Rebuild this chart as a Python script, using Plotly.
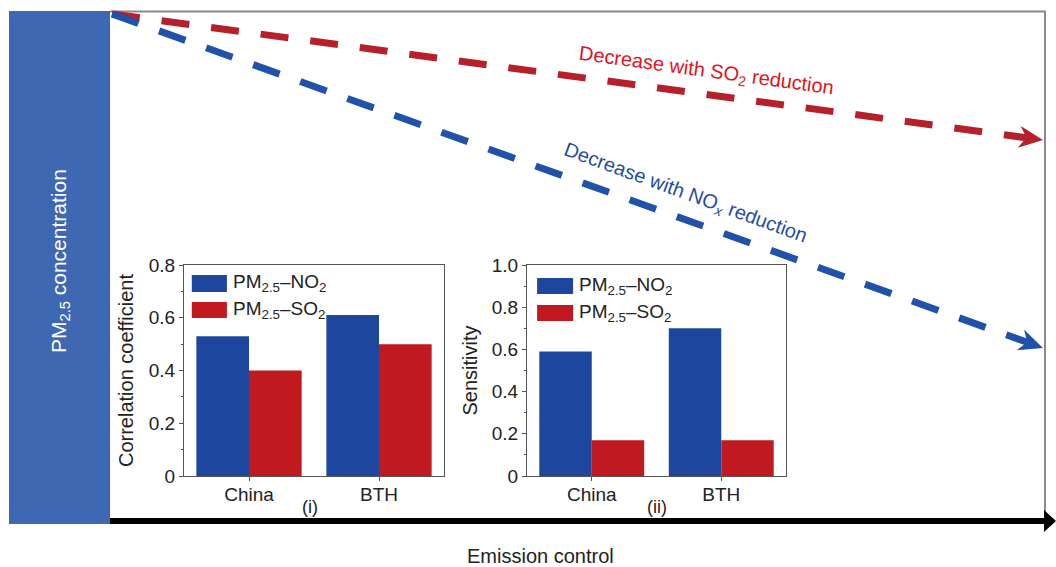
import numpy as np
import plotly.graph_objects as go

# ---------------- data ----------------
categories = ["China", "BTH"]
corr_no2 = [0.53, 0.61]
corr_so2 = [0.40, 0.50]
sens_no2 = [0.59, 0.70]
sens_so2 = [0.17, 0.17]
corr_tickvals = [0, 0.2, 0.4, 0.6, 0.8]
corr_ticktext = ["0", "0.2", "0.4", "0.6", "0.8"]
sens_tickvals = [0, 0.2, 0.4, 0.6, 0.8, 1.0]
sens_ticktext = ["0", "0.2", "0.4", "0.6", "0.8", "1.0"]
series_names = ["PM<sub>2.5</sub>–NO<sub>2</sub>", "PM<sub>2.5</sub>–SO<sub>2</sub>"]

# schematic trends (start point, arrow tip) in canvas units
so2_trend_x = [112, 1043]
so2_trend_y = [14, 140]
nox_trend_x = [112, 1043]
nox_trend_y = [14, 348]

W, H = 1056, 567
BLUE_BAR = "#1c479c"
RED_BAR = "#c0191f"
RED_LINE = "#b5202a"
BLUE_LINE = "#2152aa"
PANEL_BLUE = "#3f68b2"
TXT = "#222222"
FONT = "Arial, Liberation Sans, sans-serif"

fig = go.Figure()

shapes = []
annotations = []

# ---- schematic background (main canvas axes) ----
shapes.append(dict(type="rect", xref="x", yref="y", x0=9, x1=110, y0=11, y1=524,
                   fillcolor=PANEL_BLUE, line=dict(width=0), layer="below"))
shapes.append(dict(type="line", xref="x", yref="y", x0=110, x1=1046, y0=11.5, y1=11.5,
                   line=dict(color="#8a8a8a", width=2), layer="below"))
shapes.append(dict(type="line", xref="x", yref="y", x0=1045, x1=1045, y0=11, y1=518,
                   line=dict(color="#8a8a8a", width=2), layer="below"))
shapes.append(dict(type="line", xref="x", yref="y", x0=110, x1=1047, y0=521, y1=521,
                   line=dict(color="#000000", width=6), layer="below"))
shapes.append(dict(type="path", xref="x", yref="y",
                   path="M 1044 510 L 1056 521 L 1044 532 Z",
                   fillcolor="#000000", line=dict(width=0), layer="below"))


def head_path(xs, ys, L, Wd):
    x0, y0, x1, y1 = xs[0], ys[0], xs[1], ys[1]
    d = np.array([x1 - x0, y1 - y0], float)
    d /= np.linalg.norm(d)
    p = np.array([-d[1], d[0]])
    tip = np.array([x1, y1], float)
    base = tip - L * d
    notch = tip - 0.7 * L * d
    a = base + Wd / 2 * p
    b = base - Wd / 2 * p
    path = (f"M {tip[0]:.1f} {tip[1]:.1f} L {a[0]:.1f} {a[1]:.1f} "
            f"L {notch[0]:.1f} {notch[1]:.1f} L {b[0]:.1f} {b[1]:.1f} Z")
    return path, notch


for xs, ys, col in [(so2_trend_x, so2_trend_y, RED_LINE), (nox_trend_x, nox_trend_y, BLUE_LINE)]:
    path, notch = head_path(xs, ys, 24, 22)
    fig.add_trace(go.Scatter(x=[xs[0], notch[0]], y=[ys[0], notch[1]], mode="lines",
                             line=dict(color=col, width=7, dash="28px,22px"),
                             xaxis="x", yaxis="y", showlegend=False, hoverinfo="skip"))
    shapes.append(dict(type="path", xref="x", yref="y", path=path,
                       fillcolor=col, line=dict(width=0)))

annotations.append(dict(xref="x", yref="y", x=706, y=71, showarrow=False, textangle=7.8,
                        text="Decrease with SO<sub>2</sub> reduction",
                        font=dict(family=FONT, size=20, color="#e0141c")))
annotations.append(dict(xref="x", yref="y", x=685, y=193, showarrow=False, textangle=20,
                        text="Decrease with NO<sub><i>x</i></sub> reduction",
                        font=dict(family=FONT, size=20, color="#1f4ea3")))
annotations.append(dict(xref="x", yref="y", x=60, y=261, showarrow=False, textangle=-90,
                        text="PM<sub>2.5</sub> concentration",
                        font=dict(family=FONT, size=21, color="#ffffff")))
annotations.append(dict(xref="x", yref="y", x=540, y=556, showarrow=False,
                        text="Emission control",
                        font=dict(family=FONT, size=20, color=TXT)))

# ---- inset bar charts ----
insets = [
    dict(xa="x2", ya="y2", yr="y4", xt="x4", vals=(corr_no2, corr_so2), rng=[0, 0.8],
         tv=corr_tickvals, tt=corr_ticktext, title="Correlation coefficient",
         xdom=[184 / W, 444 / W], label="(i)", lx=0.485, standoff=9,
         leg=dict(x0=0.03, x1=0.165, tx=0.182, y=[(0.953, 0.872), (0.825, 0.749)])),
    dict(xa="x3", ya="y3", yr="y5", xt="x5", vals=(sens_no2, sens_so2), rng=[0, 1.0],
         tv=sens_tickvals, tt=sens_ticktext, title="Sensitivity",
         xdom=[527 / W, 786 / W], label="(ii)", lx=0.5, standoff=8,
         leg=dict(x0=0.039, x1=0.178, tx=0.193, y=[(0.938, 0.863), (0.810, 0.735)])),
]
ydom = [1 - 476 / H, 1 - 265 / H]

layout_axes = {}
for ins in insets:
    for vals, col, name in zip(ins["vals"], [BLUE_BAR, RED_BAR], series_names):
        fig.add_trace(go.Bar(x=categories, y=vals, name=name, marker=dict(color=col, line=dict(width=0)),
                             xaxis=ins["xa"], yaxis=ins["ya"], showlegend=False))
    xk = "xaxis" + ins["xa"][1:]
    yk = "yaxis" + ins["ya"][1:]
    yrk = "yaxis" + ins["yr"][1:]
    xtk = "xaxis" + ins["xt"][1:]
    layout_axes[xk] = dict(domain=ins["xdom"], anchor=ins["ya"], range=[-0.5, 1.5],
                           showline=True, linecolor="#555", linewidth=1, mirror=True,
                           ticks="outside", ticklen=4, tickcolor="#555", ticklabelstandoff=-3,
                           tickfont=dict(family=FONT, size=19, color=TXT), showgrid=False,
                           zeroline=False, fixedrange=True)
    layout_axes[xtk] = dict(overlaying=ins["xa"], anchor=ins["ya"], side="top",
                            range=[-0.5, 1.5], tickvals=[0, 1], ticks="inside", ticklen=4,
                            tickcolor="#555", showticklabels=False, showgrid=False,
                            zeroline=False, showline=False)
    layout_axes[yk] = dict(domain=ydom, anchor=ins["xa"], range=ins["rng"],
                           tickvals=ins["tv"], ticktext=ins["tt"],
                           showline=True, linecolor="#555", linewidth=1, mirror=True,
                           ticks="outside", ticklen=4, tickcolor="#555",
                           minor=dict(dtick=0.1, ticks="outside", ticklen=2, tickcolor="#555"),
                           tickfont=dict(family=FONT, size=19, color=TXT), showgrid=False,
                           zeroline=False,
                           title=dict(text=ins["title"], standoff=ins["standoff"],
                                      font=dict(family=FONT, size=20, color=TXT)))
    layout_axes[yrk] = dict(overlaying=ins["ya"], anchor=ins["xa"], side="right",
                            range=ins["rng"], dtick=0.1, ticks="inside", ticklen=4,
                            tickcolor="#555", showticklabels=False, showgrid=False,
                            zeroline=False, showline=False)
    lg = ins["leg"]
    for (yt, yb), col, name in zip(lg["y"], [BLUE_BAR, RED_BAR], series_names):
        shapes.append(dict(type="rect", xref=ins["xa"] + " domain", yref=ins["ya"] + " domain",
                           x0=lg["x0"], x1=lg["x1"], y0=yb, y1=yt, fillcolor=col, line=dict(width=0)))
        annotations.append(dict(xref=ins["xa"] + " domain", yref=ins["ya"] + " domain",
                                x=lg["tx"], y=(yt + yb) / 2, xanchor="left", yanchor="middle",
                                showarrow=False, text=name,
                                font=dict(family=FONT, size=19, color=TXT)))
    annotations.append(dict(xref=ins["xa"] + " domain", yref="y", x=ins["lx"], y=507, showarrow=False,
                            text=ins["label"], font=dict(family=FONT, size=18, color=TXT)))

fig.update_layout(
    width=W, height=H, margin=dict(l=0, r=0, t=0, b=0, pad=0, autoexpand=False),
    paper_bgcolor="white", plot_bgcolor="rgba(0,0,0,0)",
    barmode="group", bargap=0.19, bargroupgap=0,
    xaxis=dict(domain=[0, 1], range=[0, W], visible=False, fixedrange=True),
    yaxis=dict(domain=[0, 1], range=[H, 0], visible=False, fixedrange=True),
    shapes=shapes, annotations=annotations, showlegend=False,
    **layout_axes,
)

fig.write_html("out.html", config={"responsive": False, "displayModeBar": False},
               post_script="document.body.style.margin='0px';document.body.style.overflow='hidden';")
